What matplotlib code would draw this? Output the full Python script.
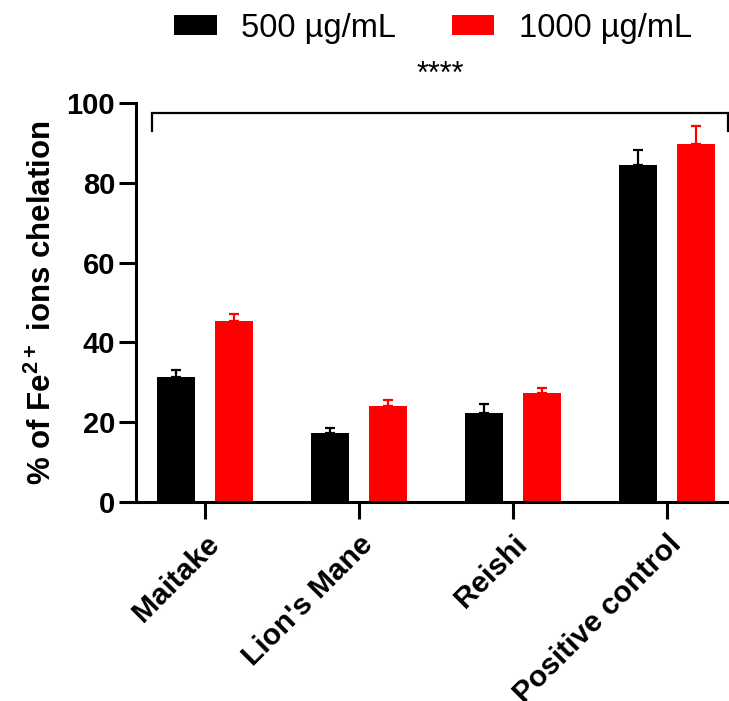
import matplotlib
matplotlib.use("Agg")
import matplotlib.pyplot as plt
from matplotlib.transforms import ScaledTranslation
import numpy as np

categories = ["Maitake", "Lion's Mane", "Reishi", "Positive control"]
vals_500 = [31.4, 17.4, 22.4, 84.5]
err_500 = [1.6, 1.2, 2.1, 3.7]
vals_1000 = [45.4, 24.1, 27.4, 89.6]
err_1000 = [1.6, 1.5, 1.2, 4.6]
series_labels = ["500 µg/mL", "1000 µg/mL"]
yticks = [0, 20, 40, 60, 80, 100]

plt.rcParams['font.family'] = ['Liberation Sans', 'DejaVu Sans']
plt.rcParams['mathtext.fontset'] = 'custom'
plt.rcParams['mathtext.rm'] = 'Liberation Sans'
plt.rcParams['mathtext.bf'] = 'Liberation Sans:bold'

fig = plt.figure(figsize=(7.29, 7.01), dpi=100)
W, H = 729, 701
ax = fig.add_axes([136 / W, (H - 502) / H, (W - 136) / W, 399 / H])

x = np.arange(len(categories))
bw = 0.248
off = 0.187
lw_err = 1.6
b1 = ax.bar(x - off, vals_500, bw, color='black', label=series_labels[0], zorder=2)
b2 = ax.bar(x + off, vals_1000, bw, color='#ff0000', label=series_labels[1], zorder=2)
ax.errorbar(x - off, vals_500, yerr=[np.zeros(4), err_500], fmt='none', ecolor='black',
            elinewidth=lw_err, capsize=3.8, capthick=lw_err, zorder=1)
ax.errorbar(x + off, vals_1000, yerr=[np.zeros(4), err_1000], fmt='none', ecolor='#ff0000',
            elinewidth=lw_err, capsize=3.8, capthick=lw_err, zorder=1)

ax.set_xlim(-0.448, 3.403)
ax.set_ylim(0, 100)
ax.set_yticks(yticks)
ax.set_yticklabels([str(t) for t in yticks], fontsize=21, fontweight='bold')
ax.set_xticks(x)
ax.set_xticklabels(categories, rotation=45, ha='right', va='top', rotation_mode='anchor',
                   fontsize=21.5, fontweight='bold')
shift = ScaledTranslation(-3 / 100, 0, fig.dpi_scale_trans)
for lab in ax.get_xticklabels():
    lab.set_transform(lab.get_transform() + shift)
for s in ['top', 'right']:
    ax.spines[s].set_visible(False)
for s in ['left', 'bottom']:
    ax.spines[s].set_linewidth(2.2)
ax.tick_params(axis='both', length=12, width=2.2, pad=3)
ax.tick_params(axis='x', pad=8)
ax.set_ylabel("% of Fe$^{\\mathbf{2+}}$ ions chelation", fontsize=22.5, fontweight='bold', labelpad=6)

# significance bracket
bx0, bx1 = -0.344, 3.394
ytop, ybot = 97.4, 93.0
ax.plot([bx0, bx0, bx1, bx1], [ybot, ytop, ytop, ybot], color='black', lw=1.6,
        clip_on=False, solid_joinstyle='miter')
ax.text(1.526, 107, "****", ha='center', va='center', fontsize=22)

fig.legend(handles=[b1, b2], labels=series_labels, loc='center', ncol=2,
           bbox_to_anchor=(433 / W, 1 - 28 / H), frameon=False, fontsize=23.5,
           handlelength=1.3, handleheight=0.6, handletextpad=0.75, columnspacing=1.7)

fig.savefig("out.png", dpi=100)
